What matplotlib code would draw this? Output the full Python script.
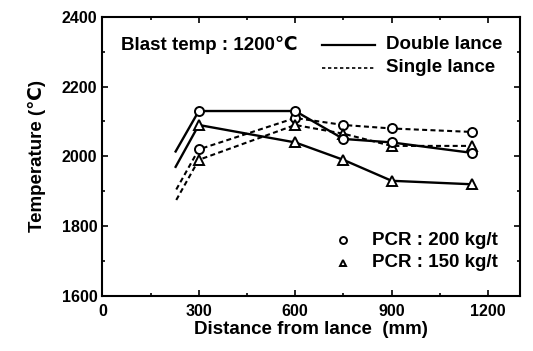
import matplotlib
matplotlib.use("Agg")
import matplotlib.pyplot as plt
from matplotlib.ticker import MultipleLocator

plt.rcParams['font.family'] = ['Liberation Sans', 'DejaVu Sans']
plt.rcParams['font.weight'] = 'bold'

# Data (first point of each series is the line start without a marker)
x_pts = [228, 300, 600, 750, 900, 1150]
double_200 = [2014, 2130, 2130, 2050, 2040, 2010]
double_150 = [1970, 2090, 2040, 1990, 1930, 1920]
single_x = [230, 300, 600, 750, 900, 1150]
single_200 = [1905, 2020, 2110, 2090, 2080, 2070]
single_150 = [1875, 1990, 2090, 2065, 2030, 2030]

x_ticks = [0, 300, 600, 900, 1200]
y_ticks = [1600, 1800, 2000, 2200, 2400]

fig = plt.figure(figsize=(5.33, 3.51), dpi=100)
ax = fig.add_axes([0.192, 0.157, 0.784, 0.795])

dash = (0, (2.4, 1.6))
common = dict(color='black', markerfacecolor='white', markeredgecolor='black',
              markeredgewidth=1.4, markevery=list(range(1, 6)), clip_on=False)
ax.plot(x_pts, double_200, '-', marker='o', markersize=6.5, linewidth=1.7, zorder=3, **common)
ax.plot(x_pts, double_150, '-', marker='^', markersize=6.5, linewidth=1.7, zorder=3, **common)
ax.plot(single_x, single_200, linestyle=dash, marker='o', markersize=6.5, linewidth=1.5, zorder=2, **common)
ax.plot(single_x, single_150, linestyle=dash, marker='^', markersize=6.5, linewidth=1.5, zorder=2, **common)

ax.set_xlim(0, 1300)
ax.set_ylim(1600, 2400)
ax.set_xticks(x_ticks)
ax.set_yticks(y_ticks)
ax.yaxis.set_minor_locator(MultipleLocator(100))
ax.xaxis.set_minor_locator(MultipleLocator(150))
ax.tick_params(which='both', direction='in', top=True, right=True, labelsize=11.5, width=1.2)
ax.tick_params(axis='x', which='major', pad=6)
ax.tick_params(which='major', length=4)
ax.tick_params(which='minor', length=2)
for lab in ax.get_xticklabels() + ax.get_yticklabels():
    lab.set_fontweight('bold')
for s in ax.spines.values():
    s.set_linewidth(1.5)

ax.set_xlabel('Distance from lance  (mm)', fontsize=13.5, fontweight='bold', labelpad=1)
ax.set_ylabel('Temperature (℃)', fontsize=13.5, fontweight='bold', labelpad=11)

# Annotations / legend
fs = 13.5
ax.text(0.045, 0.9, 'Blast temp : 1200℃', transform=ax.transAxes, fontsize=fs,
        fontweight='bold', va='center', ha='left')
ax.plot([0.526, 0.653], [0.9, 0.9], '-', color='black', linewidth=1.6, transform=ax.transAxes)
ax.text(0.68, 0.9, 'Double lance', transform=ax.transAxes, fontsize=fs,
        fontweight='bold', va='center', ha='left')
ax.plot([0.526, 0.653], [0.818, 0.818], linestyle=(0, (2.0, 1.6)), color='black', linewidth=1.2,
        transform=ax.transAxes)
ax.text(0.68, 0.818, 'Single lance', transform=ax.transAxes, fontsize=fs,
        fontweight='bold', va='center', ha='left')

ax.plot([0.577], [0.2], 'o', markersize=5, markerfacecolor='white', markeredgecolor='black',
        markeredgewidth=1.4, transform=ax.transAxes)
ax.text(0.645, 0.2, 'PCR : 200 kg/t', transform=ax.transAxes, fontsize=fs,
        fontweight='bold', va='center', ha='left')
ax.plot([0.577], [0.118], '^', markersize=5, markerfacecolor='white', markeredgecolor='black',
        markeredgewidth=1.4, transform=ax.transAxes)
ax.text(0.645, 0.118, 'PCR : 150 kg/t', transform=ax.transAxes, fontsize=fs,
        fontweight='bold', va='center', ha='left')

fig.savefig('out.png', dpi=100)
